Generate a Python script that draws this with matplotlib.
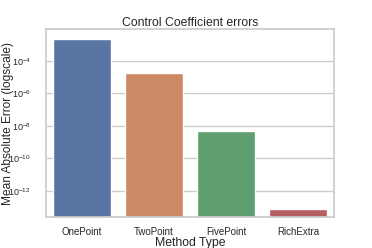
import matplotlib
matplotlib.use("Agg")
import matplotlib.pyplot as plt
import seaborn as sns

methods = ["OnePoint", "TwoPoint", "FivePoint", "RichExtra"]
mean_abs_error = [2.2e-3, 1.8e-5, 5.1e-9, 8.3e-14]

sns.set_theme(style="whitegrid")
plt.rcParams['font.family'] = ['Liberation Sans', 'DejaVu Sans']
plt.rcParams['mathtext.fontset'] = 'custom'
plt.rcParams['mathtext.rm'] = 'Liberation Sans'
plt.rcParams['mathtext.it'] = 'Liberation Sans:italic'
plt.rcParams['mathtext.bf'] = 'Liberation Sans:bold'

fig, ax = plt.subplots(figsize=(3.72, 2.48), dpi=100)
sns.barplot(x=methods, y=mean_abs_error, hue=methods, palette="deep", ax=ax, legend=False)
ax.set_yscale("log")
ax.set_ylim(10 ** -13.6, 10 ** -2.04)
ax.set_title("Control Coefficient errors", fontsize=8.8, pad=2.5)
ax.set_xlabel("Method Type", fontsize=8.8, labelpad=0)
ax.set_ylabel("Mean Absolute Error (logscale)", fontsize=8.6)
ax.yaxis.set_label_coords(-0.112, 0.5)
ax.tick_params(axis="x", labelsize=7, pad=1.5)
ax.tick_params(axis="y", labelsize=6.5, pad=5)
ax.minorticks_off()
ax.grid(axis="x", visible=False)

fig.subplots_adjust(left=0.124, right=0.898, top=0.883, bottom=0.125)
fig.savefig("out.png", dpi=100)
